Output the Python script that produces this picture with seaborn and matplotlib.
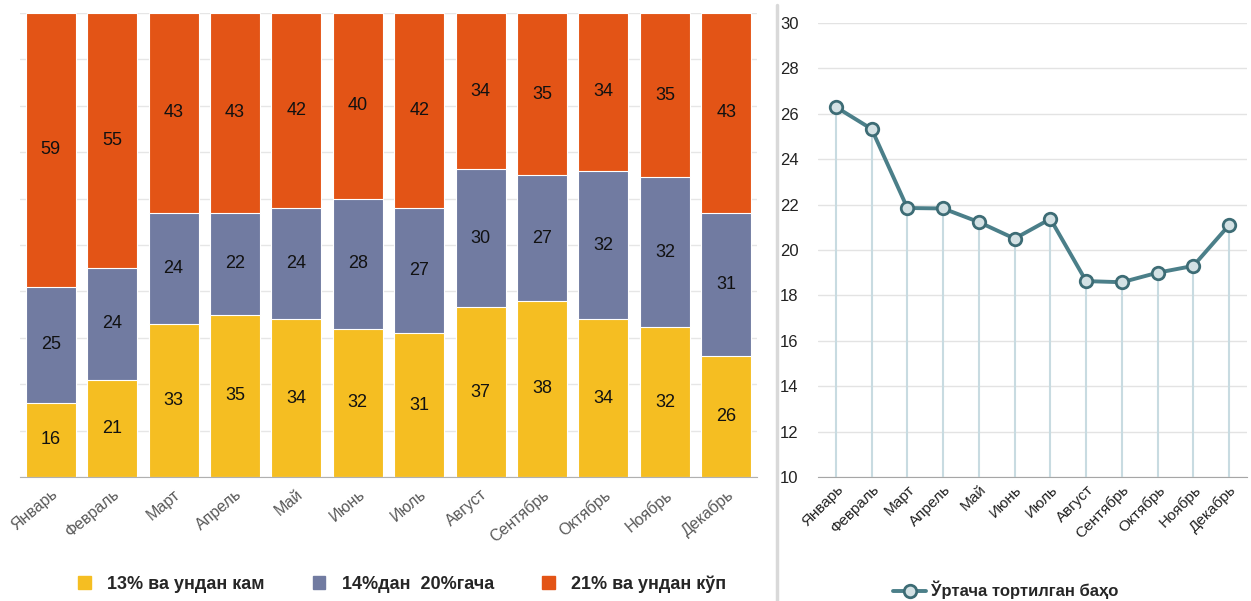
import matplotlib.pyplot as plt
import matplotlib.lines as mlines
import matplotlib.patches as mpatches
import seaborn as sns
import pandas as pd
import numpy as np

# Маълумотлар
months = ['Январь', 'Февраль', 'Март', 'Апрель', 'Май', 'Июнь',
          'Июль', 'Август', 'Сентябрь', 'Октябрь', 'Ноябрь', 'Декабрь']
low = [16, 21, 33, 35, 34, 32, 31, 37, 38, 34, 32, 26]
mid = [25, 24, 24, 22, 24, 28, 27, 30, 27, 32, 32, 31]
high = [59, 55, 43, 43, 42, 40, 42, 34, 35, 34, 35, 43]
avg_rate = [26.3, 25.33, 21.85, 21.83, 21.23, 20.5, 21.37, 18.63, 18.58, 19.0, 19.3, 21.1]

series_names = ['13% ва ундан кам', '14%дан  20%гача', '21% ва ундан кўп']
line_name = 'Ўртача тортилган баҳо'

c_low = '#F5BE22'
c_mid = '#717BA1'
c_high = '#E35416'
c_line = '#4B7F89'

sns.set_style('white')
plt.rcParams['font.family'] = ['Liberation Sans', 'DejaVu Sans']

df = pd.DataFrame({'month': months, 'low': low, 'mid': mid, 'high': high})
tot = df[['low', 'mid', 'high']].sum(axis=1)
df['p_low'] = df['low'] / tot * 100
df['p_mid'] = df['mid'] / tot * 100
df['p_high'] = df['high'] / tot * 100
df['cum1'] = df['p_low']
df['cum2'] = df['p_low'] + df['p_mid']
df['cum3'] = df['cum2'] + df['p_high']

fig = plt.figure(figsize=(12.51, 6.01), dpi=100)
ax1 = fig.add_axes([20 / 1251, 124 / 601, 737 / 1251, 464 / 601])
ax2 = fig.add_axes([818 / 1251, 124 / 601, 429 / 1251, 454 / 601])

# Чап: 100% stacked
for col, color in [('cum3', c_high), ('cum2', c_mid), ('cum1', c_low)]:
    sns.barplot(data=df, x='month', y=col, color=color, width=0.815,
                saturation=1, edgecolor='white', linewidth=0.8, ax=ax1, zorder=2)

for i in range(len(months)):
    for val, yc in [(low[i], df['p_low'][i] / 2),
                    (mid[i], df['cum1'][i] + df['p_mid'][i] / 2),
                    (high[i], df['cum2'][i] + df['p_high'][i] / 2)]:
        ax1.text(i, yc, str(val), ha='center', va='center', fontsize=13,
                 color='#111111')

ax1.set_xlim(-0.5, 11.5)
ax1.set_ylim(0, 100)
ax1.set_yticks(np.arange(0, 101, 10))
ax1.set_yticklabels([])
ax1.tick_params(axis='y', length=0)
ax1.grid(axis='y', color='#e6e6e6', linewidth=1, zorder=0)
ax1.set_axisbelow(True)
ax1.set_xlabel('')
ax1.set_ylabel('')
for s in ['top', 'right', 'left']:
    ax1.spines[s].set_visible(False)
ax1.spines['bottom'].set_color('#b0b0b0')
ax1.tick_params(axis='x', length=0, pad=7, labelsize=11.5, labelcolor='#595959')
plt.setp(ax1.get_xticklabels(), rotation=40, ha='right', rotation_mode='anchor')

handles = [mpatches.Patch(color=c) for c in [c_low, c_mid, c_high]]
fig.legend(handles, series_names, loc='center', bbox_to_anchor=(0.3215, 0.028), ncol=3,
           frameon=False, handlelength=0.7, handleheight=0.7, handletextpad=0.9,
           columnspacing=2.67, prop={'weight': 'bold', 'size': 13})

# Ўнг: чизиқли график
x = np.arange(len(months))
ax2.vlines(x, 10, avg_rate, color='#c8dbe1', linewidth=1.5, zorder=1)
sns.lineplot(x=x, y=avg_rate, ax=ax2, color=c_line, linewidth=2.8, marker='o',
             markersize=9, markerfacecolor='#d3e1e4', markeredgecolor='#3d6c75',
             markeredgewidth=2, zorder=3)
ax2.set_xlim(-0.5, 11.5)
ax2.set_ylim(10, 30)
ax2.set_yticks(np.arange(10, 31, 2))
ax2.grid(axis='y', color='#e3e3e3', linewidth=1, zorder=0)
ax2.set_axisbelow(True)
ax2.set_xticks(x)
ax2.set_xticklabels(months)
for s in ['top', 'right', 'left']:
    ax2.spines[s].set_visible(False)
ax2.spines['bottom'].set_color('#a6a6a6')
ax2.tick_params(axis='y', length=0, pad=14, labelsize=12, labelcolor='#222222')
ax2.tick_params(axis='x', length=0, pad=4, labelsize=11, labelcolor='#222222')
plt.setp(ax2.get_xticklabels(), rotation=45, ha='right', rotation_mode='anchor')

lh = mlines.Line2D([], [], color=c_line, linewidth=2.8, marker='o', markersize=9,
                   markerfacecolor='#d3e1e4', markeredgecolor='#3d6c75', markeredgewidth=2)
fig.legend([lh], [line_name], loc='center', bbox_to_anchor=(0.804, 0.018), frameon=False,
           handlelength=2.0, handletextpad=0.3,
           prop={'weight': 'bold', 'size': 12})

# Ажратувчи чизиқ
fig.add_artist(mlines.Line2D([777 / 1251, 777 / 1251], [0, 596 / 601], color='#d9d9d9',
                             linewidth=2.5, transform=fig.transFigure))

fig.savefig('out.png', dpi=100)
